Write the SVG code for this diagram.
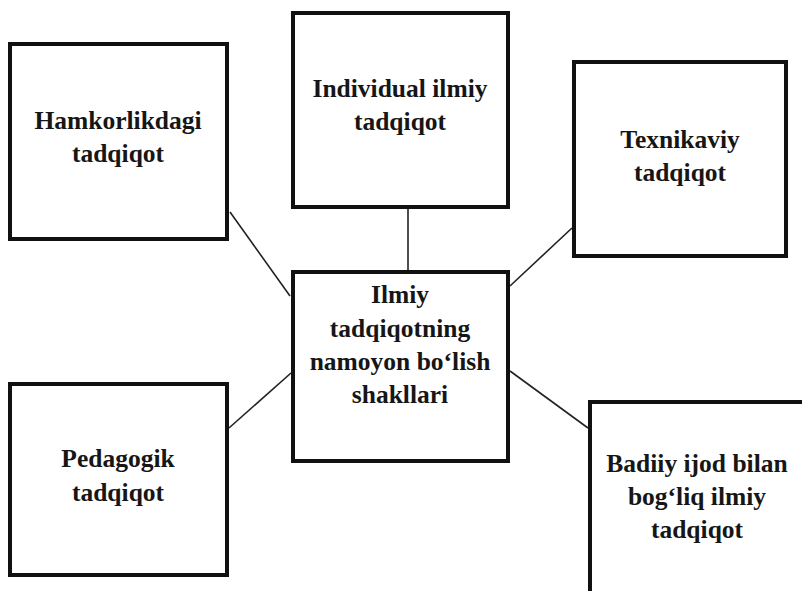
<svg xmlns="http://www.w3.org/2000/svg" width="802" height="591" viewBox="0 0 802 591">
<style>
.box{fill:#ffffff;stroke:#111111;stroke-width:4}
.lbl{font-family:"Liberation Serif","Times New Roman",serif;font-weight:bold;font-size:25.5px;fill:#161616;text-anchor:middle}
.con{stroke:#222222;stroke-width:1.6;fill:none}
</style>
<rect width="802" height="591" fill="#ffffff"/>
<g id="connectors">
<line class="con" x1="230" y1="212" x2="290" y2="296"/>
<line class="con" x1="408" y1="209" x2="408" y2="270"/>
<line class="con" x1="572" y1="228" x2="510" y2="286"/>
<line class="con" x1="229" y1="428" x2="291" y2="373"/>
<line class="con" x1="510" y1="371" x2="588" y2="428"/>
</g>
<g id="hamkorlikdagi">
<rect class="box" x="10" y="44" width="217" height="195"/>
<text class="lbl" x="118" y="129">Hamkorlikdagi</text>
<text class="lbl" x="118" y="162">tadqiqot</text>
</g>
<g id="individual">
<rect class="box" x="293" y="13" width="215" height="194"/>
<text class="lbl" x="400" y="97">Individual ilmiy</text>
<text class="lbl" x="400" y="130">tadqiqot</text>
</g>
<g id="texnikaviy">
<rect class="box" x="574" y="62" width="212" height="194"/>
<text class="lbl" x="680" y="148">Texnikaviy</text>
<text class="lbl" x="680" y="181">tadqiqot</text>
</g>
<g id="center">
<rect class="box" x="293" y="272" width="215" height="189"/>
<text class="lbl" x="400" y="303">Ilmiy</text>
<text class="lbl" x="400" y="337">tadqiqotning</text>
<text class="lbl" x="400" y="370">namoyon bo‘lish</text>
<text class="lbl" x="400" y="403">shakllari</text>
</g>
<g id="pedagogik">
<rect class="box" x="10" y="384" width="217" height="191"/>
<text class="lbl" x="118" y="467">Pedagogik</text>
<text class="lbl" x="118" y="501">tadqiqot</text>
</g>
<g id="badiiy">
<rect class="box" x="590" y="402" width="215" height="200"/>
<text class="lbl" x="697" y="472">Badiiy ijod bilan</text>
<text class="lbl" x="697" y="505">bog‘liq ilmiy</text>
<text class="lbl" x="697" y="538">tadqiqot</text>
</g>
</svg>
